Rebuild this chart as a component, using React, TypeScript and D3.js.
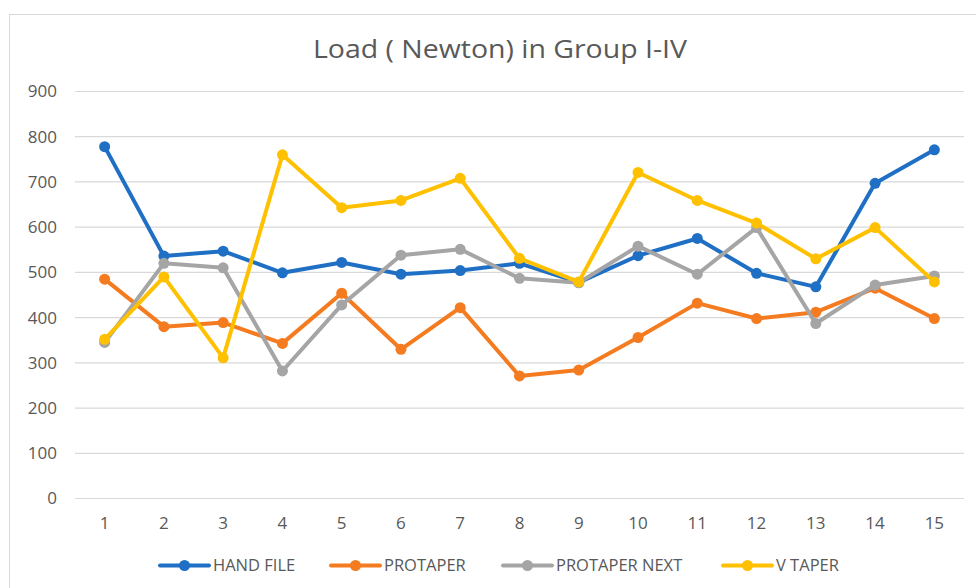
import * as d3 from "d3";
import { useEffect, useRef } from "react";

const title = "Load ( Newton) in Group I-IV";
const samples = ["1", "2", "3", "4", "5", "6", "7", "8", "9", "10", "11", "12", "13", "14", "15"];
const yTicks = [0, 100, 200, 300, 400, 500, 600, 700, 800, 900];

const seriesNames = ["HAND FILE", "PROTAPER", "PROTAPER NEXT", "V TAPER"];
const seriesColors = ["#1f6fc5", "#f47b20", "#a5a5a5", "#ffc000"];

const handFile = [778, 536, 547, 499, 522, 496, 504, 520, 478, 537, 575, 498, 468, 697, 771];
const protaper = [485, 380, 389, 343, 454, 330, 422, 271, 284, 356, 432, 398, 412, 465, 398];
const protaperNext = [345, 520, 510, 282, 428, 538, 551, 487, 477, 558, 496, 599, 387, 472, 492];
const vTaper = [352, 490, 311, 760, 643, 659, 708, 531, 479, 721, 659, 609, 530, 599, 479];

const allSeries = [handFile, protaper, protaperNext, vTaper];

export default function App() {
  const ref = useRef<SVGSVGElement>(null);

  const width = 976;
  const height = 588;
  const plotLeft = 75;
  const plotRight = 964;
  const plotTop = 91.5;
  const plotBottom = 498.5;

  useEffect(() => {
    const svg = d3.select(ref.current);
    svg.selectAll("*").remove();

    // chart frame (cropped on right/bottom in the reference)
    svg
      .append("rect")
      .attr("x", 9.5)
      .attr("y", 14.5)
      .attr("width", width)
      .attr("height", height)
      .attr("fill", "#fff")
      .attr("stroke", "#d9d9d9");

    svg
      .append("text")
      .attr("x", 500)
      .attr("y", 58)
      .attr("text-anchor", "middle")
      .attr("fill", "#595959")
      .attr("textLength", 374)
      .attr("lengthAdjust", "spacingAndGlyphs")
      .style("font-size", "26px")
      .text(title);

    const x = d3.scalePoint().domain(samples).range([plotLeft, plotRight]).padding(0.5);
    const y = d3.scaleLinear().domain([0, 900]).range([plotBottom, plotTop]);

    const grid = svg.append("g");
    grid
      .selectAll("line")
      .data(yTicks)
      .join("line")
      .attr("x1", plotLeft)
      .attr("x2", plotRight)
      .attr("y1", (d) => y(d))
      .attr("y2", (d) => y(d))
      .attr("stroke", "#d9d9d9")
      .attr("stroke-width", 1.2);

    svg
      .append("g")
      .selectAll("text")
      .data(yTicks)
      .join("text")
      .attr("x", 57)
      .attr("y", (d) => y(d))
      .attr("dy", "0.35em")
      .attr("text-anchor", "end")
      .attr("fill", "#595959")
      .style("font-size", "17px")
      .text((d) => d);

    svg
      .append("g")
      .selectAll("text")
      .data(samples)
      .join("text")
      .attr("x", (d) => x(d)!)
      .attr("y", 523)
      .attr("dy", "0.35em")
      .attr("text-anchor", "middle")
      .attr("fill", "#595959")
      .style("font-size", "17px")
      .text((d) => d);

    const line = d3
      .line<number>()
      .x((_, i) => x(samples[i])!)
      .y((d) => y(d));

    allSeries.forEach((vals, si) => {
      const g = svg.append("g");
      g.append("path")
        .attr("d", line(vals))
        .attr("fill", "none")
        .attr("stroke", seriesColors[si])
        .attr("stroke-width", 4)
        .attr("stroke-linejoin", "round")
        .attr("stroke-linecap", "round");
      g.selectAll("circle")
        .data(vals)
        .join("circle")
        .attr("cx", (_, i) => x(samples[i])!)
        .attr("cy", (d) => y(d))
        .attr("r", 5.5)
        .attr("fill", seriesColors[si]);
    });

    // legend
    const legendX = [160, 331, 503, 723];
    const legend = svg.append("g");
    seriesNames.forEach((name, i) => {
      const lx = legendX[i];
      const ly = 565.5;
      legend
        .append("line")
        .attr("x1", lx)
        .attr("x2", lx + 49)
        .attr("y1", ly)
        .attr("y2", ly)
        .attr("stroke", seriesColors[i])
        .attr("stroke-width", 4)
        .attr("stroke-linecap", "round");
      legend
        .append("circle")
        .attr("cx", lx + 24.5)
        .attr("cy", ly)
        .attr("r", 5.5)
        .attr("fill", seriesColors[i]);
      legend
        .append("text")
        .attr("x", lx + 53)
        .attr("y", ly)
        .attr("dy", "0.35em")
        .attr("fill", "#595959")
        .style("font-size", "16.5px")
        .text(name);
    });
  }, []);

  return (
    <svg
      ref={ref}
      width={width}
      height={height}
      style={{ position: "absolute", left: 0, top: 0, fontFamily: "'Open Sans', sans-serif" }}
    />
  );
}
